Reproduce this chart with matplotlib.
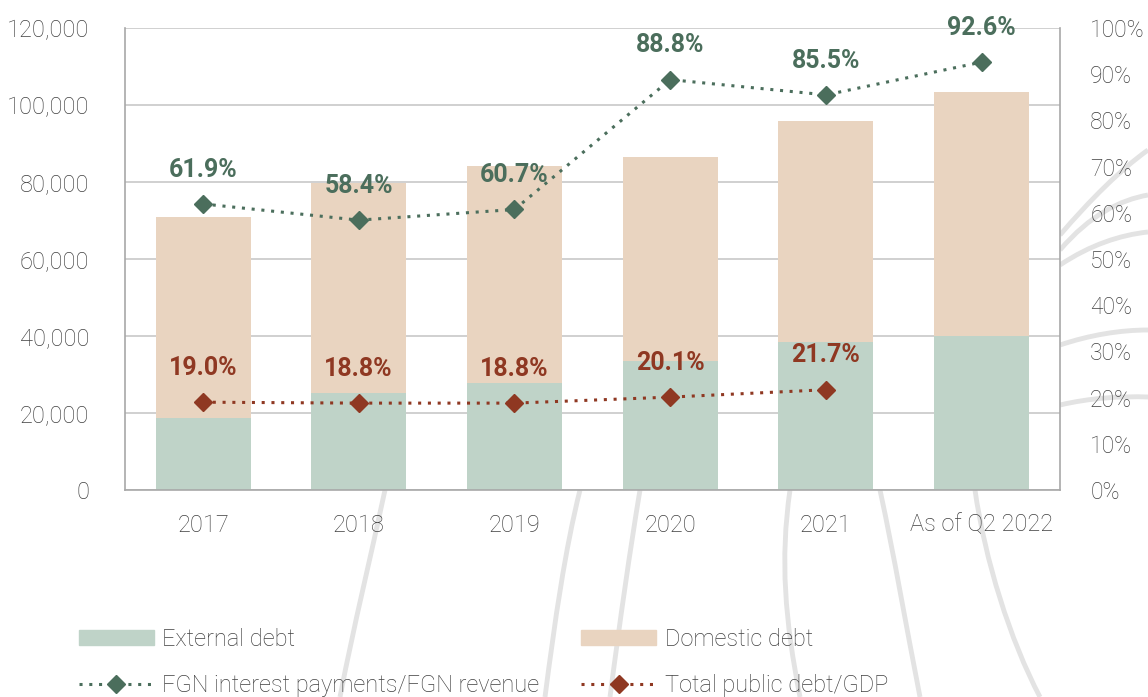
import matplotlib.pyplot as plt
import numpy as np
from matplotlib.lines import Line2D
from matplotlib.patches import Patch, PathPatch
from matplotlib.path import Path

years = ['2017', '2018', '2019', '2020', '2021', 'As of Q2 2022']
external = [18700, 25200, 27800, 33500, 38400, 40000]
total = [71000, 79700, 84100, 86500, 95800, 103400]
domestic = [t - e for t, e in zip(total, external)]
interest_rev = [61.9, 58.4, 60.7, 88.8, 85.5, 92.6]
debt_gdp = [19.0, 18.8, 18.8, 20.1, 21.7]

c_ext = '#bfd3c8'
c_dom = '#e9d4c0'
c_green = '#4b6e5c'
c_red = '#8f3822'
c_txt = '#404040'

plt.rcParams['font.family'] = ['Roboto', 'DejaVu Sans']

fig = plt.figure(figsize=(11.48, 6.97), dpi=100)

# faint decorative curves in the background
bg = fig.add_axes([0, 0, 1, 1], zorder=0)
bg.set_xlim(0, 1148)
bg.set_ylim(697, 0)
bg.axis('off')
curves = [
    [(1060, 235), (1090, 200), (1120, 170), (1148, 150)],
    [(1060, 250), (1090, 215), (1120, 200), (1148, 195)],
    [(1060, 265), (1090, 245), (1120, 235), (1148, 232)],
    [(1060, 345), (1090, 335), (1120, 330), (1148, 330)],
    [(1060, 405), (1090, 398), (1120, 396), (1148, 397)],
    [(340, 697), (355, 620), (370, 560), (385, 490)],
    [(545, 697), (555, 620), (565, 550), (580, 490)],
    [(610, 697), (620, 620), (630, 550), (640, 490)],
    [(800, 697), (785, 620), (780, 560), (790, 490)],
    [(920, 697), (905, 620), (895, 560), (880, 490)],
    [(1040, 697), (1010, 640), (985, 560), (975, 490)],
]
for pts in curves:
    path = Path(pts, [Path.MOVETO, Path.CURVE4, Path.CURVE4, Path.CURVE4])
    bg.add_patch(PathPatch(path, fill=False, edgecolor='#dcdcdc', lw=3.5, alpha=0.8))

ax = fig.add_axes([0.109, 0.297, 0.814, 0.663], zorder=1)
x = np.arange(len(years))
ax.bar(x, external, width=0.61, color=c_ext, zorder=2)
ax.bar(x, domestic, width=0.61, bottom=external, color=c_dom, zorder=2)
ax.set_xlim(-0.5, len(years) - 0.5)
ax.set_ylim(0, 120000)
ax.set_yticks(np.arange(0, 120001, 20000))
ax.set_yticklabels([f'{v:,}' for v in range(0, 120001, 20000)])
ax.set_xticks(x)
ax.set_xticklabels(years)
ax.grid(axis='y', color='#c8c8c8', lw=1.2, zorder=0)
ax.set_axisbelow(True)
ax.spines['top'].set_visible(False)
for s in ['left', 'right', 'bottom']:
    ax.spines[s].set_color('#a8a8a8')
    ax.spines[s].set_linewidth(1.2)
ax.tick_params(axis='both', length=0, labelsize=17, colors=c_txt, pad=17)
ax.tick_params(axis='y', pad=26)
for lbl in ax.get_xticklabels() + ax.get_yticklabels():
    lbl.set_fontweight('light')

ax2 = ax.twinx()
ax2.set_ylim(0, 100)
ax2.set_yticks(np.arange(0, 101, 10))
ax2.set_yticklabels([f'{v}%' for v in range(0, 101, 10)])
ax2.tick_params(axis='y', length=0, labelsize=16.5, colors=c_txt, pad=22)
for lbl in ax2.get_yticklabels():
    lbl.set_fontweight('light')
for s in ax2.spines.values():
    s.set_visible(False)

ax2.plot(x, interest_rev, ls=(0, (1, 2.2)), lw=2.2, color=c_green, marker='D', ms=9, zorder=3)
ax2.plot(x[:len(debt_gdp)], debt_gdp, ls=(0, (1, 2.2)), lw=2.2, color=c_red, marker='D', ms=9, zorder=3)
for xi, v in zip(x, interest_rev):
    ax2.annotate(f'{v:.1f}%', (xi, v), xytext=(0, 16), textcoords='offset points',
                 ha='center', va='bottom', fontsize=18, fontweight='bold', color=c_green)
for xi, v in zip(x, debt_gdp):
    ax2.annotate(f'{v:.1f}%', (xi, v), xytext=(0, 16), textcoords='offset points',
                 ha='center', va='bottom', fontsize=18, fontweight='bold', color=c_red)

handles = [
    Patch(color=c_ext, label='External debt'),
    Line2D([], [], ls=(0, (1, 2.2)), lw=2.2, color=c_green, marker='D', ms=9,
           label='FGN interest payments/FGN revenue'),
    Patch(color=c_dom, label='Domestic debt'),
    Line2D([], [], ls=(0, (1, 2.2)), lw=2.2, color=c_red, marker='D', ms=9,
           label='Total public debt/GDP'),
]
leg = fig.legend(handles=handles, ncol=2, loc='upper left', bbox_to_anchor=(0.05, 0.13),
                 frameon=False, fontsize=17, handlelength=3.2, handleheight=0.6,
                 columnspacing=1.75, labelspacing=1.0, handletextpad=0.35)
for t in leg.get_texts():
    t.set_color(c_txt)
    t.set_fontweight('light')

fig.savefig('out.png', dpi=100)
